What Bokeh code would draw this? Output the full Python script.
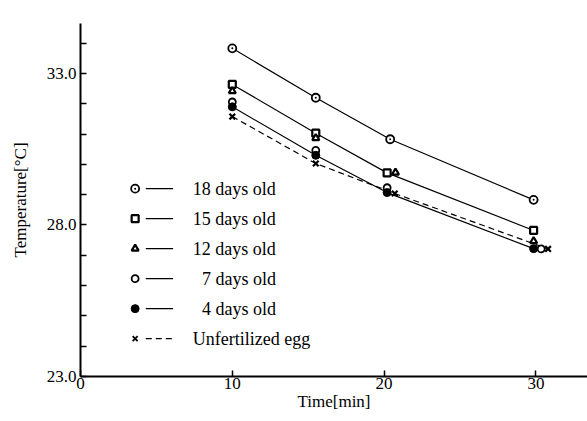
from bokeh.plotting import figure
from bokeh.models import Range1d, FixedTicker, ColumnDataSource
from bokeh.embed import file_html
from bokeh.resources import INLINE
from bokeh.core.properties import value

# ---- data ----
t18 = [10.0, 15.5, 20.4, 29.85]
T18 = [33.83, 32.20, 30.83, 28.83]
t15 = [10.0, 15.5, 20.2, 29.85]
T15 = [32.64, 31.03, 29.72, 27.82]
t12 = [10.0, 15.5, 20.75, 29.85]
T12 = [32.42, 30.87, 29.73, 27.47]
t7 = [10.0, 15.5, 20.2, 30.35]
T7 = [32.06, 30.46, 29.23, 27.21]
t4 = [10.0, 15.5, 20.2, 29.85]
T4 = [31.90, 30.30, 29.07, 27.22]
tX = [10.0, 15.5, 20.7, 30.8]
TX = [31.58, 30.03, 29.04, 27.21]

legend_labels = ["18 days old", "15 days old", "12 days old",
                 "7 days old", "4 days old", "Unfertilized egg"]
y_ticks = [23, 28, 33]
y_minor = [24, 25, 26, 27, 29, 30, 31, 32, 34]
x_ticks = [0, 10, 20, 30]

SERIF = "Liberation Serif"

p = figure(width=587, height=418, output_backend="svg", toolbar_location=None,
           x_range=Range1d(0, 33.4), y_range=Range1d(23, 34.65),
           min_border_left=80, min_border_right=0, min_border_top=23,
           min_border_bottom=42)
p.outline_line_color = None
p.grid.visible = False
p.background_fill_color = "white"
p.border_fill_color = "white"

for ax in (p.xaxis[0], p.yaxis[0]):
    ax.axis_line_color = "black"
    ax.axis_line_width = 2
    ax.major_tick_in = 6
    ax.major_tick_out = 0
    ax.minor_tick_in = 6
    ax.minor_tick_out = 0
    ax.major_tick_line_color = "black"
    ax.minor_tick_line_color = "black"
    ax.major_tick_line_width = 1.5
    ax.minor_tick_line_width = 1.5
    ax.major_label_text_font = SERIF
    ax.major_label_text_font_size = "17px"
    ax.major_label_text_color = "black"
    ax.axis_label_text_font = SERIF
    ax.axis_label_text_font_size = "17px"
    ax.axis_label_text_font_style = "normal"
    ax.axis_label_text_color = "black"

p.xaxis[0].ticker = FixedTicker(ticks=x_ticks, minor_ticks=[])
p.yaxis[0].ticker = FixedTicker(ticks=y_ticks, minor_ticks=y_minor)
p.yaxis[0].major_label_overrides = {t: f"{t:.1f}" for t in y_ticks}
p.xaxis[0].axis_label = "Time[min]"
p.yaxis[0].axis_label = "Temperature[°C]"
p.xaxis[0].major_label_standoff = 1
p.xaxis[0].axis_label_standoff = 0
p.yaxis[0].major_label_standoff = 4
p.yaxis[0].axis_label_standoff = 14

# ---- curves ----
p.line(t18, T18, line_color="black", line_width=1.2)
p.line(t15, T15, line_color="black", line_width=1.2)
p.line(t4, T4, line_color="black", line_width=1.2)
p.line(tX, TX, line_color="black", line_width=1.2, line_dash="6 4")

# ---- markers ----
p.scatter(t18, T18, marker="circle_dot", size=8, line_color="black",
          fill_color="white", line_width=1.8)
p.scatter(t15, T15, marker="square", size=7, line_color="black",
          fill_color="white", line_width=2.2)
p.scatter(t12, T12, marker="triangle", size=7, line_color="black",
          fill_color="white", line_width=2.2)
p.scatter(t7, T7, marker="circle", size=7, line_color="black",
          fill_color="white", line_width=1.8)
p.scatter(t4, T4, marker="circle", size=8, line_color="black",
          fill_color="black")
p.scatter(tX, TX, marker="x", size=8, line_color="black", line_width=2.2)

# ---- legend (drawn in data space) ----
LEG_TOP = 29.2
LEG_STEP = 0.99
LEG_MARK_X = 3.6
LEG_LINE = (4.3, 6.1)
LEG_TEXT_X = [7.4, 7.4, 7.4, 8.0, 8.0, 7.4]
rows = [LEG_TOP - i * LEG_STEP for i in range(len(legend_labels))]

styles = [
    dict(marker="circle_dot", size=8, fill_color="white", line_width=1.8),
    dict(marker="square", size=7, fill_color="white", line_width=2.2),
    dict(marker="triangle", size=7, fill_color="white", line_width=2.2),
    dict(marker="circle", size=7, fill_color="white", line_width=1.8),
    dict(marker="circle", size=8, fill_color="black", line_width=1),
    dict(marker="x", size=7, fill_color="white", line_width=1.8),
]
for i, st in enumerate(styles):
    p.scatter([LEG_MARK_X], [rows[i]], line_color="black", **st)
    dash = "6 4" if i == 5 else "solid"
    p.line(list(LEG_LINE), [rows[i], rows[i]], line_color="black",
           line_width=1.2, line_dash=dash)

src = ColumnDataSource(dict(x=LEG_TEXT_X, y=rows, t=legend_labels))
p.text(x="x", y="y", text="t", source=src, text_font=value(SERIF),
       text_font_size="18px", text_baseline="middle", text_align="left",
       text_color="black")

open("out.html", "w").write(file_html(p, INLINE))
